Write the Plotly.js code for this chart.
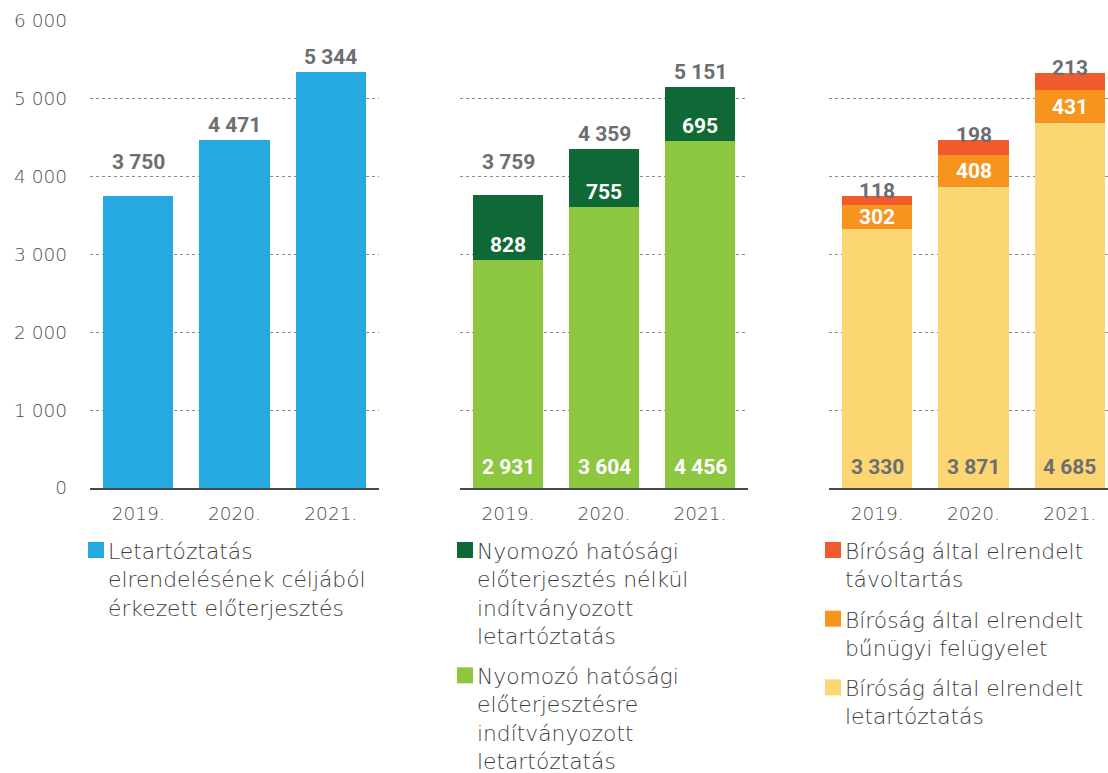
<!DOCTYPE html>
<html><head><meta charset="utf-8">
<script src="https://cdn.plot.ly/plotly-3.0.1.min.js"></script>
<style>html,body{margin:0;padding:0;background:#fff;} #chart{width:1108px;height:773px;}</style>
</head><body><div id="chart"></div>
<script>
// ---- data ----
const years = ["2019.", "2020.", "2021."];
const yTicks = [0, 1000, 2000, 3000, 4000, 5000, 6000];

const p1Name = "Letartóztatás<br>elrendelésének céljából<br>érkezett előterjesztés";
const p1Values = [3750, 4471, 5344];

const p2TopName = "Nyomozó hatósági<br>előterjesztés nélkül<br>indítványozott<br>letartóztatás";
const p2BaseName = "Nyomozó hatósági<br>előterjesztésre<br>indítványozott<br>letartóztatás";
const p2Base = [2931, 3604, 4456];
const p2Top = [828, 755, 695];
const p2Totals = [3759, 4359, 5151];

const p3TopName = "Bíróság által elrendelt<br>távoltartás";
const p3MidName = "Bíróság által elrendelt<br>bűnügyi felügyelet";
const p3BaseName = "Bíróság által elrendelt<br>letartóztatás";
const p3Base = [3330, 3871, 4685];
const p3Mid = [302, 408, 431];
const p3Top = [118, 198, 213];

// ---- style ----
const C = {
  blue: '#25a9e0', dgreen: '#0f6937', lgreen: '#8dc63f',
  red: '#f15a2b', orange: '#f7941e', yellow: '#fdd674',
  gray: '#6d6e71', text: '#3d3d3d', grid: '#8c8c8c', axis: '#4a4a4a'
};
const W = 1108, H = 773, MT = 21, MB = 285;
const plotBottom = H - MB, plotH = H - MT - MB;
const px2x = p => p / W;
const py2y = p => (plotBottom - p) / plotH;

const fmt = v => String(v).replace(/\B(?=(\d{3})+(?!\d))/g, ' ');
const numFont = (c) => ({family: 'Roboto', size: 21, color: c, weight: 700});
const LIGHT = "'DejaVu Sans', Inter, sans-serif";
const lightFont = {family: LIGHT, size: 18.5, color: '#4d4d4d', weight: 200};
// lift total labels above a gridline that would cut through them
const labelAnchor = v => { const g = Math.ceil(v / 1000) * 1000; return (g - v < 300) ? g : v; };

const bar = (y, color, xa, ya) => ({
  type: 'bar', x: years, y: y, xaxis: xa, yaxis: ya,
  marker: {color: color, line: {width: 0}}, hoverinfo: 'skip', showlegend: false
});

const data = [
  bar(p1Values, C.blue, 'x', 'y'),
  bar(p2Base, C.lgreen, 'x2', 'y2'),
  bar(p2Top, C.dgreen, 'x2', 'y2'),
  bar(p3Base, C.yellow, 'x3', 'y3'),
  bar(p3Mid, C.orange, 'x3', 'y3'),
  bar(p3Top, C.red, 'x3', 'y3')
];

const ann = [];
// x given as the category index (the "2019." names would be read as numbers)
const addAnn = (xa, ya, x, y, text, color, yshift) => ann.push({
  xref: xa, yref: ya, x: x, y: y, text: text, showarrow: false,
  font: numFont(color), yshift: yshift, yanchor: 'middle', xanchor: 'center'
});
years.forEach((yr, i) => {
  addAnn('x', 'y', i, labelAnchor(p1Values[i]), fmt(p1Values[i]), C.gray, 15);
  addAnn('x2', 'y2', i, labelAnchor(p2Totals[i]), fmt(p2Totals[i]), C.gray, 15);
  addAnn('x2', 'y2', i, p2Base[i], fmt(p2Top[i]), '#ffffff', 15);
  addAnn('x2', 'y2', i, 0, fmt(p2Base[i]), '#ffffff', 21);
  addAnn('x3', 'y3', i, p3Base[i] + p3Mid[i] / 2, fmt(p3Mid[i]), '#ffffff', 0);
  addAnn('x3', 'y3', i, p3Base[i] + p3Mid[i] + p3Top[i], fmt(p3Top[i]), C.gray, 5);
  addAnn('x3', 'y3', i, 0, fmt(p3Base[i]), C.gray, 21);
});

// ---- custom legends ----
const shapes = [];
const FS = 21.8, LH = 1.3 * FS, GAP = 12, SQ = 16;
function legend(items, sqLeft, top) {
  let cur = top;
  items.forEach(it => {
    shapes.push({type: 'rect', xref: 'paper', yref: 'paper',
      x0: px2x(sqLeft), x1: px2x(sqLeft + SQ), y0: py2y(cur), y1: py2y(cur + SQ),
      fillcolor: it.color, line: {width: 0}});
    ann.push({xref: 'paper', yref: 'paper', x: px2x(sqLeft + SQ + 2), y: py2y(cur - 5),
      xanchor: 'left', yanchor: 'top', align: 'left', showarrow: false, text: it.name,
      font: {family: LIGHT, size: FS, color: C.text, weight: 200}});
    const lines = it.name.split('<br>').length;
    cur += lines * LH + GAP;
  });
}
legend([{name: p1Name, color: C.blue}], 88, 542);
legend([{name: p2TopName, color: C.dgreen}, {name: p2BaseName, color: C.lgreen}], 457, 542);
legend([{name: p3TopName, color: C.red}, {name: p3MidName, color: C.orange}, {name: p3BaseName, color: C.yellow}], 825, 542);

const xBase = {
  type: 'category', showgrid: false, zeroline: false, showline: true,
  linecolor: C.axis, linewidth: 2, ticks: '', tickfont: lightFont, fixedrange: true,
  ticklabelstandoff: 8
};
const yBase = {
  range: [0, 6000], tickvals: yTicks, tickformat: ',d', showgrid: true,
  gridcolor: C.grid, griddash: '3px,3px', gridwidth: 1, zeroline: false, showline: false,
  ticks: '', fixedrange: true, tickfont: lightFont
};
const catW = (379 - 90) / 3;
const layout = {
  width: W, height: H, margin: {l: 0, r: 0, t: MT, b: MB, pad: 0},
  paper_bgcolor: '#ffffff', plot_bgcolor: '#ffffff',
  separators: ', ', barmode: 'stack', bargap: 0.272, showlegend: false,
  font: {family: LIGHT, color: C.text},
  xaxis: Object.assign({}, xBase, {domain: [px2x(90), px2x(379)], range: [-0.5, 2.5], anchor: 'y'}),
  xaxis2: Object.assign({}, xBase, {domain: [px2x(460), px2x(748)], range: [-0.5, 2.5], anchor: 'y2'}),
  xaxis3: Object.assign({}, xBase, {domain: [px2x(829), 1], range: [-0.5, -0.5 + (W - 829) / catW], anchor: 'y3'}),
  yaxis: Object.assign({}, yBase, {anchor: 'x', ticklabelstandoff: 22}),
  yaxis2: Object.assign({}, yBase, {anchor: 'x2', matches: 'y', showticklabels: false}),
  yaxis3: Object.assign({}, yBase, {anchor: 'x3', matches: 'y', showticklabels: false}),
  annotations: ann, shapes: shapes
};
Plotly.newPlot('chart', data, layout, {displayModeBar: false, staticPlot: true});
</script></body></html>
